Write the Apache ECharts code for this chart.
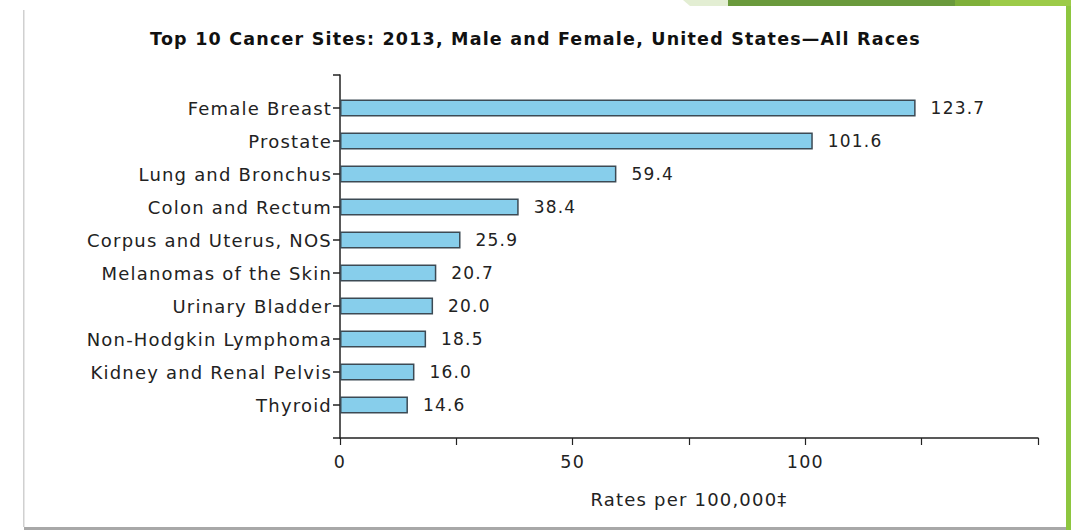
<!DOCTYPE html>
<html>
<head>
<meta charset="utf-8">
<script src="https://cdn.jsdelivr.net/npm/echarts@6/dist/echarts.min.js"></script>
<style>
html,body{margin:0;padding:0;background:#fff;}
#chart{width:1071px;height:530px;}
#chart text{letter-spacing:1.2px;}
</style>
</head>
<body>
<div id="chart"></div>
<script>
const categories = ['Female Breast','Prostate','Lung and Bronchus','Colon and Rectum','Corpus and Uterus, NOS','Melanomas of the Skin','Urinary Bladder','Non-Hodgkin Lymphoma','Kidney and Renal Pelvis','Thyroid'];
const rates = [123.7, 101.6, 59.4, 38.4, 25.9, 20.7, 20.0, 18.5, 16.0, 14.6];
const xTickLabels = ['0','50','100'];
const titleText = 'Top 10 Cancer Sites: 2013, Male and Female, United States\u2014All Races';
const axisName = 'Rates per 100,000\u2021';

const font = 'DejaVu Sans';
const cats = [''].concat(categories, ['']);
const vals = [null].concat(rates, [null]);

const chart = echarts.init(document.getElementById('chart'), null, {renderer: 'svg'});
chart.setOption({
  backgroundColor: '#fff',
  animation: false,
  title: {
    text: titleText, left: 'center', top: 25,
    textStyle: {fontFamily: font, fontSize: 17.5, fontWeight: 'bold', color: '#111'}
  },
  grid: {left: 340, right: 33, top: 75, bottom: 92, containLabel: false},
  xAxis: {
    type: 'value', min: 0, max: 150, interval: 25,
    splitLine: {show: false},
    axisLine: {show: true, lineStyle: {color: '#222', width: 1.5}},
    axisTick: {show: true, length: 7, lineStyle: {color: '#222', width: 1.2}},
    axisLabel: {
      margin: 15, fontFamily: font, fontSize: 17.5, color: '#222',
      formatter: function (v) { const s = String(v); return xTickLabels.indexOf(s) >= 0 ? s : ''; }
    },
    name: axisName, nameLocation: 'middle', nameGap: 52,
    nameTextStyle: {fontFamily: font, fontSize: 18, color: '#222'}
  },
  yAxis: {
    type: 'category', data: cats, inverse: true, boundaryGap: false,
    axisLine: {show: true, lineStyle: {color: '#222', width: 1.5}},
    axisTick: {show: true, length: 7, alignWithLabel: true, lineStyle: {color: '#222', width: 1.5}},
    axisLabel: {margin: 8, fontFamily: font, fontSize: 18, color: '#222', interval: 0}
  },
  series: [{
    type: 'bar', data: vals, barWidth: 17,
    itemStyle: {color: '#87CEEB', borderColor: '#3c4a54', borderWidth: 1.5},
    label: {
      show: true, position: 'right', distance: 15,
      fontFamily: font, fontSize: 17, color: '#222',
      formatter: function (p) { return p.value == null ? '' : p.value.toFixed(1); }
    }
  }],
  graphic: [
    {type: 'rect', shape: {x: 1066, y: 0, width: 5, height: 530}, style: {fill: '#8dc63f'}},
    {type: 'rect', shape: {x: 24, y: 527, width: 1042, height: 3}, style: {fill: '#a8a8a8'}},
    {type: 'rect', shape: {x: 23, y: 10, width: 1.5, height: 517}, style: {fill: '#d0d0d0'}},
    {type: 'polygon', shape: {points: [[683,0],[728,0],[728,6],[690,6]]}, style: {fill: '#e3eed3'}},
    {type: 'rect', shape: {x: 728, y: 0, width: 227, height: 6}, style: {fill: '#6a9a3c'}},
    {type: 'rect', shape: {x: 955, y: 0, width: 35, height: 6}, style: {fill: '#7fb03a'}},
    {type: 'rect', shape: {x: 990, y: 0, width: 81, height: 6}, style: {fill: '#9ccb48'}}
  ]
});
</script>
</body>
</html>
